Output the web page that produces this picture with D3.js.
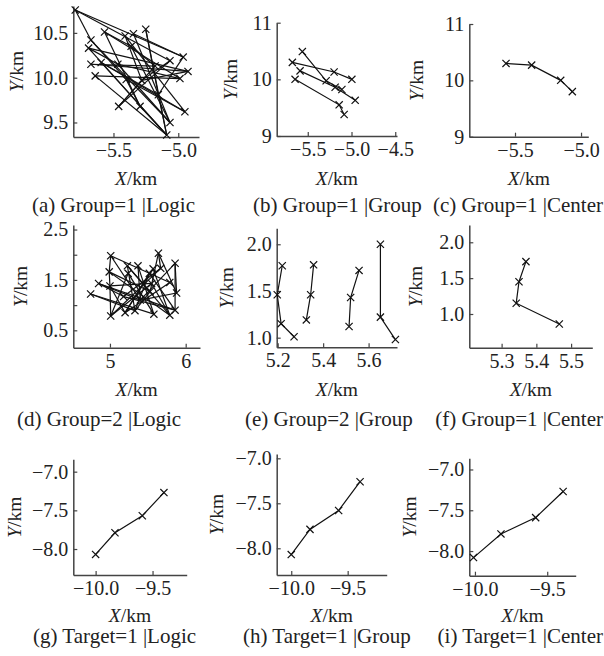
<!DOCTYPE html>
<html>
<head>
  <meta charset="utf-8">
  <script src="https://d3js.org/d3.v7.min.js"></script>
  <style>
    body{ margin:0; background:#fff; }
    text{ font-family: "Times New Roman", Times, "Liberation Serif", serif; fill:#222; }
    .tick text{ font-size:20px; }
    .tick line{ stroke:#444; stroke-width:1.2; }
    path.domain{ stroke:#444; stroke-width:1.5; }
    text.axlab{ font-size:19.5px; }
    text.caption{ font-size:21px; }
    .trk{ fill:none; stroke:#111; stroke-width:1.2; }
    .mk{ stroke:#111; stroke-width:1.2; }
  </style>
</head>
<body>
<script>

// ---- data (km) ----

// (a) Group=1 |Logic : detections joined by wrong associations
const aPts = [[-5.795,10.755],[-5.674,10.42],[-5.692,10.33],[-5.569,10.51],[-5.41,10.465],
  [-5.346,10.49],[-5.251,10.54],[-5.364,10.35],[-5.674,10.15],[-5.595,10.17],
  [-5.466,10.15],[-5.641,10.02],[-5.402,9.98],[-5.179,10.13],[-5.064,10.19],
  [-4.962,10.23],[-4.925,10.07],[-4.987,9.99],[-5.46,9.68],[-5.295,9.68],
  [-4.949,9.62],[-5.064,9.50],[-5.089,9.36],[-5.154,9.81],[-5.282,9.97]];
const aLinks = [[0,15],[0,14],[0,1],[1,12],[1,21],[2,16],[2,10],[3,17],[3,19],[4,20],
  [5,15],[6,22],[6,23],[7,21],[8,13],[8,16],[9,20],[10,17],[11,17],[11,22],
  [12,19],[13,18],[14,18],[15,23],[16,24],[18,24],[23,22],[7,13],[4,24],[5,21],
  [9,23],[12,20],[24,14],[19,22],[3,7],[2,22],[9,22],[10,21]];

// (b) Group=1 |Group
const bTracks = [
  [[-5.676,10.30],[-5.199,10.13],[-4.996,10.00]],
  [[-5.562,10.49],[-5.290,9.975],[-5.110,9.82]],
  [[-5.588,10.15],[-5.187,9.86],[-4.958,9.63]],
  [[-5.645,10.00],[-5.141,9.55],[-5.084,9.38]]
];

// (c) Group=1 |Center
const cTrack = [[-5.568,10.30],[-5.374,10.27],[-5.154,10.00],[-5.066,9.80]];

// (d) Group=2 |Logic
const dPts = [[5.01,1.98],[4.99,1.66],[4.85,1.43],[4.745,1.22],[5.0,1.38],
  [5.01,0.785],[5.23,1.78],[5.37,1.78],[5.2,0.85],[5.33,0.89],
  [5.52,1.63],[5.57,1.72],[5.64,2.03],[5.67,1.73],[5.86,1.83],
  [5.88,1.24],[5.58,0.82],[5.79,0.80],[5.86,0.90],[5.79,1.45],
  [5.55,1.43],[5.24,1.63],[5.40,1.10],[5.53,1.27],[5.18,1.17]];
const dLinks = [[0,1],[1,4],[4,5],[0,19],[0,22],[1,23],[1,17],[2,24],[2,18],[3,9],
  [3,16],[4,20],[4,8],[5,21],[5,13],[6,9],[6,17],[7,22],[7,16],[8,11],
  [9,10],[10,18],[11,17],[12,23],[12,15],[12,13],[14,15],[14,18],[13,24],[19,8],
  [20,5],[21,16],[22,14],[23,9],[24,18],[6,23],[10,8],[15,22],[2,22],[20,17]];

// (e) Group=2 |Group
const eTracks = [
  [[5.22,1.77],[5.198,1.46],[5.215,1.15],[5.272,1.01]],
  [[5.358,1.78],[5.345,1.46],[5.326,1.19]],
  [[5.558,1.72],[5.521,1.43],[5.514,1.12]],
  [[5.652,2.00],[5.652,1.22],[5.718,0.98]]
];

// (f) Group=1 |Center
const fTrack = [[5.37,1.73],[5.35,1.45],[5.342,1.15],[5.466,0.86]];

// (g)(h)(i) Target=1
const gTrack = [[-10.00,-8.07],[-9.83,-7.79],[-9.59,-7.57],[-9.40,-7.27]];
const hTrack = [[-10.00,-8.07],[-9.834,-7.79],[-9.58,-7.58],[-9.39,-7.26]];
const iTrack = [[-10.01,-8.08],[-9.82,-7.79],[-9.58,-7.59],[-9.39,-7.27]];

// axis extents and ticks
const xDomains = [[-5.81,-4.84],[-5.855,-4.48],[-5.846,-4.945],[4.516,6.189],[5.1956,5.725],
  [5.207,5.561],[-10.196,-9.2],[-10.129,-9.154],[-10.039,-9.303]];
const yDomains = [[9.338,10.80],[9,11],[9,11],[0.155,2.59],[0.897,2.171],
  [0.53,2.241],[-8.336,-6.84],[-8.297,-6.952],[-8.302,-6.863]];
const xTicks = [[-5.5,-5.0],[-5.5,-5.0,-4.5],[-5.5,-5.0],[5,6],[5.2,5.4,5.6],
  [5.3,5.4,5.5],[-10.0,-9.5],[-10.0,-9.5],[-10.0,-9.5]];
const yTicks = [[9.5,10.0,10.5],[9,10,11],[9,10,11],[0.5,1.0,1.5,2.0,2.5],[1.0,1.5,2.0],
  [1.0,1.5,2.0],[-8.0,-7.5,-7.0],[-8.0,-7.5,-7.0],[-8.0,-7.5,-7.0]];
const captions = ['(a) Group=1 |Logic','(b) Group=1 |Group','(c) Group=1 |Center',
  '(d) Group=2 |Logic','(e) Group=2 |Group','(f) Group=1 |Center',
  '(g) Target=1 |Logic','(h) Target=1 |Group','(i) Target=1 |Center'];

// ---- layout (pixels) ----
// plot rect [left, right, top, bottom]
const rects = [[73.3,199,6,137],[276.7,397,22.7,136],[469.3,588.3,24,136.7],
  [73.3,200,225,347.7],[276.7,397,228.3,347.3],[469.3,592.3,225,347.7],
  [73.3,186.7,459.3,575],[276.7,386.7,454,575],[469.3,575.7,458.3,575.7]];
const yLabX = [17,231,416.7,20.7,226.7,416,15,216.7,410];
const capX = [32,253,null,17,245,null,33,243,null];   // null: right aligned at page edge
const xLabBase = [185,396,622];
const capBase = [212,426,643];

const svg = d3.select('body').append('svg')
  .attr('width',604).attr('height',656);

const f1 = d3.format('.1f');
const xFmt = [f1,f1,f1,d3.format('d'),f1,f1,f1,f1,f1];
const yFmt = [f1,d3.format('d'),d3.format('d'),
  d => (Math.round(d*10) % 10 === 5) ? f1(d) : '',
  f1,f1,f1,f1,f1];

function cross(g, pts, x, y){
  const s = 3.6;
  g.selectAll(null).data(pts).enter().append('path')
    .attr('class','mk')
    .attr('d', d => {
      const px = x(d[0]), py = y(d[1]);
      return `M${px-s},${py-s}L${px+s},${py+s}M${px-s},${py+s}L${px+s},${py-s}`;
    });
}

function panel(i, draw){
  const [l,r,t,b] = rects[i];
  const row = Math.floor(i/3);
  const x = d3.scaleLinear().domain(xDomains[i]).range([l,r]);
  const y = d3.scaleLinear().domain(yDomains[i]).range([b,t]);
  const g = svg.append('g');

  g.append('g').attr('transform',`translate(0,${b})`)
    .call(d3.axisBottom(x).tickValues(xTicks[i]).tickFormat(xFmt[i])
      .tickSizeInner(-4).tickSizeOuter(0).tickPadding(6));
  g.append('g').attr('transform',`translate(${l},0)`)
    .call(d3.axisLeft(y).tickValues(yTicks[i]).tickFormat(yFmt[i])
      .tickSizeInner(-4).tickSizeOuter(0).tickPadding(5));

  g.selectAll('.tick line').attr('stroke','#444');

  const line = d3.line().x(d => x(d[0])).y(d => y(d[1]));
  draw(g, x, y, line);

  g.append('text').attr('class','axlab')
    .attr('x',(l+r)/2).attr('y',xLabBase[row])
    .attr('text-anchor','middle')
    .html('<tspan font-style="italic">X</tspan>/km');
  g.append('text').attr('class','axlab')
    .attr('transform',`translate(${yLabX[i]+6},${(t+b)/2}) rotate(-90)`)
    .attr('text-anchor','middle')
    .html('<tspan font-style="italic">Y</tspan>/km');
  const right = capX[i] === null;
  g.append('text').attr('class','caption')
    .attr('x', right ? 603 : capX[i]).attr('y',capBase[row])
    .attr('text-anchor', right ? 'end' : 'start')
    .text(captions[i]);
}

function links(pts, lk){
  return (g, x, y, line) => {
    g.selectAll(null).data(lk).enter().append('path')
      .attr('class','trk')
      .attr('d', d => line([pts[d[0]], pts[d[1]]]));
    cross(g, pts, x, y);
  };
}
function tracks(list){
  return (g, x, y, line) => {
    g.selectAll(null).data(list).enter().append('path')
      .attr('class','trk').attr('d', line);
    list.forEach(tr => cross(g, tr, x, y));
  };
}

panel(0, links(aPts, aLinks));
panel(1, tracks(bTracks));
panel(2, tracks([cTrack]));
panel(3, links(dPts, dLinks));
panel(4, tracks(eTracks));
panel(5, tracks([fTrack]));
panel(6, tracks([gTrack]));
panel(7, tracks([hTrack]));
panel(8, tracks([iTrack]));

</script>
</body>
</html>
